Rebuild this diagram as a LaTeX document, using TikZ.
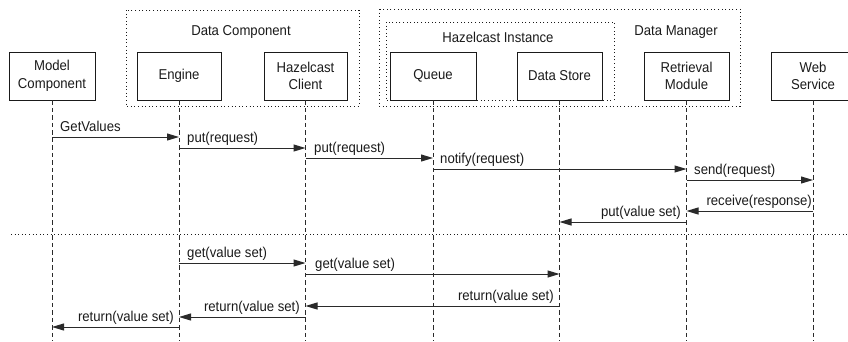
\documentclass[tikz,border=0pt]{standalone}
\usepackage{fontspec}
\setmainfont{Liberation Sans}[FakeStretch=0.92]
\usetikzlibrary{arrows.meta}
\definecolor{ink}{HTML}{1A1A1A}
\definecolor{lineink}{HTML}{2A2A2A}
\tikzset{
  obj/.style={draw=ink, line width=0.9pt, minimum height=48pt, inner sep=0pt, align=center, text=ink,
              font=\fontsize{14.3}{17.5}\selectfont},
  grp/.style={draw=ink, line width=1pt, dash pattern=on 1pt off 2.6pt},
  life/.style={draw=lineink, line width=0.9pt, dash pattern=on 4.5pt off 3pt},
  msg/.style={draw=lineink, line width=1pt, -{Triangle[length=12pt,width=7pt]}},
  lbl/.style={text=ink, inner sep=0pt, font=\fontsize{14.3}{16}\selectfont},
  rl/.style={lbl, anchor=base west},
  ll/.style={lbl, anchor=base east},
}
\begin{document}
\begin{tikzpicture}[x=1pt,y=-1pt]
\useasboundingbox (0,0) rectangle (848,341);
\clip (0,0) rectangle (848,341);
% group boxes
\draw[grp] (126,10) rectangle (359,106);
\draw[grp] (379,9) rectangle (740,106);
\draw[grp] (386,22) rectangle (614,100);
\node[lbl] (tdc) at (241,32) {Data Component};
\node[lbl] (thi) at (498,37) {Hazelcast Instance};
\node[lbl] (tdm) at (676,32) {Data Manager};
% objects
\node[obj, minimum width=86pt] (mc) at (52,76) {Model\\Component};
\node[obj, minimum width=84pt] (en) at (179,76) {Engine};
\node[obj, minimum width=83pt] (hc) at (305.5,76) {Hazelcast\\Client};
\node[obj, minimum width=86pt] (qu) at (433,76) {Queue};
\node[obj, minimum width=85pt] (ds) at (559.5,76) {Data Store};
\node[obj, minimum width=85pt] (rm) at (686.5,76) {Retrieval\\Module};
\node[obj, minimum width=83pt] (ws) at (813,76) {Web\\Service};
% lifelines
\foreach \n in {mc,en,hc,qu,ds,rm,ws}{
  \coordinate (\n-end) at (\n.south |- 0,341);
  \draw[life] (\n.south) -- (\n-end);
}
% separator
\coordinate (sepL) at (11,234);
\coordinate (sepR) at (848,234);
\draw[grp] (sepL) -- (sepR);
% messages
\draw[msg] (mc.south |- 0,137) -- (en.south |- 0,137);
\node[rl] (l1) at (60,131) {GetValues};
\draw[msg] (en.south |- 0,148) -- (hc.south |- 0,148);
\node[rl] (l2) at (187,142) {put(request)};
\draw[msg] (hc.south |- 0,158) -- (qu.south |- 0,158);
\node[rl] (l3) at (314,152) {put(request)};
\draw[msg] (qu.south |- 0,169) -- (rm.south |- 0,169);
\node[rl] (l4) at (440,163) {notify(request)};
\draw[msg] (rm.south |- 0,180) -- (ws.south |- 0,180);
\node[rl] (l5) at (694,174) {send(request)};
\draw[msg] (ws.south |- 0,211) -- (rm.south |- 0,211);
\node[ll] (l6) at (812,205) {receive(response)};
\draw[msg] (rm.south |- 0,222) -- (ds.south |- 0,222);
\node[ll] (l7) at (681,216) {put(value set)};
\draw[msg] (en.south |- 0,263) -- (hc.south |- 0,263);
\node[rl] (l8) at (187,257) {get(value set)};
\draw[msg] (hc.south |- 0,274) -- (ds.south |- 0,274);
\node[rl] (l9) at (315,268) {get(value set)};
\draw[msg] (ds.south |- 0,306) -- (hc.south |- 0,306);
\node[ll] (l10) at (554,300) {return(value set)};
\draw[msg] (hc.south |- 0,317) -- (en.south |- 0,317);
\node[ll] (l11) at (300,311) {return(value set)};
\draw[msg] (en.south |- 0,327) -- (mc.south |- 0,327);
\node[ll] (l12) at (174,321) {return(value set)};
\end{tikzpicture}
\end{document}
